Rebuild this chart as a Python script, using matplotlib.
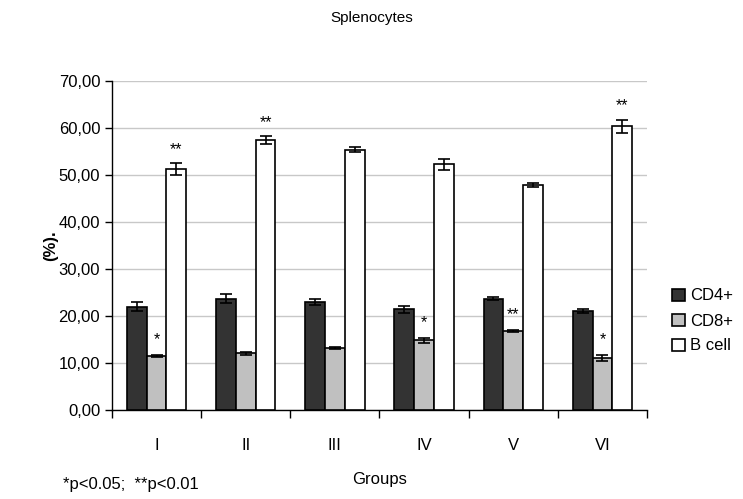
import numpy as np
import matplotlib.pyplot as plt
from matplotlib.ticker import FuncFormatter

plt.rcParams['font.family'] = ['Liberation Sans', 'DejaVu Sans']

# Data
groups = ['I', 'II', 'III', 'IV', 'V', 'VI']
cd4 = np.array([22.0, 23.7, 23.0, 21.4, 23.7, 21.1])
cd4_err = np.array([1.0, 0.9, 0.6, 0.7, 0.4, 0.4])
cd8 = np.array([11.5, 12.1, 13.2, 14.8, 16.9, 11.1])
cd8_err = np.array([0.3, 0.3, 0.2, 0.6, 0.2, 0.6])
bcell = np.array([51.3, 57.4, 55.4, 52.3, 47.8, 60.4])
bcell_err = np.array([1.2, 0.8, 0.6, 1.2, 0.4, 1.4])
cd8_sig = ['*', '', '', '*', '**', '*']
bcell_sig = ['**', '**', '', '', '', '**']

fig = plt.figure(figsize=(7.43, 4.99), dpi=100)
ax = fig.add_axes([112 / 743, 1 - 410 / 499, 535 / 743, 329 / 499])

x = np.arange(len(groups))
w = 1 / 4.5
ekw = dict(ecolor='black', elinewidth=1.2, capthick=1.2)
series = [
    (cd4, cd4_err, '#333333', 'CD4+'),
    (cd8, cd8_err, '#c0c0c0', 'CD8+'),
    (bcell, bcell_err, 'white', 'B cell'),
]
for i, (vals, errs, col, lab) in enumerate(series):
    ax.bar(x + (i - 1) * w, vals, w, yerr=errs, color=col, edgecolor='black',
           linewidth=1.2, capsize=4, error_kw=ekw, label=lab, zorder=3)

# significance marks above the error bars
for xi, v, e, s in zip(x, cd8, cd8_err, cd8_sig):
    if s:
        ax.text(xi, v + e + 1.6, s, ha='center', va='bottom', fontsize=11.5)
for xi, v, e, s in zip(x + w, bcell, bcell_err, bcell_sig):
    if s:
        ax.text(xi, v + e + 1.4, s, ha='center', va='bottom', fontsize=11.5)

ax.set_xlim(-0.5, len(groups) - 0.5)
ax.set_ylim(0, 70)
ax.set_yticks(np.arange(0, 71, 10))
ax.yaxis.set_major_formatter(FuncFormatter(lambda v, p: '{:.2f}'.format(v).replace('.', ',')))
ax.set_xticks(x)
ax.set_xticklabels(groups)
ax.set_xticks(np.arange(-0.5, len(groups)), minor=True)
ax.tick_params(axis='x', which='major', length=0, pad=20, labelsize=12)
ax.tick_params(axis='x', which='minor', length=6, width=1, direction='out')
ax.tick_params(axis='y', length=5, width=1, direction='out', labelsize=12)
ax.grid(axis='y', color='#c8c8c8', linewidth=1, zorder=0)
ax.set_axisbelow(True)
for side in ['top', 'right']:
    ax.spines[side].set_visible(False)
ax.spines['left'].set_linewidth(1)
ax.spines['bottom'].set_linewidth(1)

ax.set_ylabel('(%).', fontsize=12, fontweight='bold', labelpad=0)
ax.set_xlabel('Groups', fontsize=12, labelpad=14)
fig.text(0.5, 1 - 18 / 499, 'Splenocytes', ha='center', va='center', fontsize=11)
fig.text(63 / 743, 1 - 484 / 499, '*p<0.05;  **p<0.01', ha='left', va='center', fontsize=12)

ax.legend(loc='center left', bbox_to_anchor=(672 / 743, 1 - 321 / 499),
          bbox_transform=fig.transFigure, frameon=False, fontsize=12,
          handlelength=0.75, handleheight=0.75, handletextpad=0.35, labelspacing=0.6,
          borderpad=0, borderaxespad=0)

fig.savefig('out.png', dpi=100)
